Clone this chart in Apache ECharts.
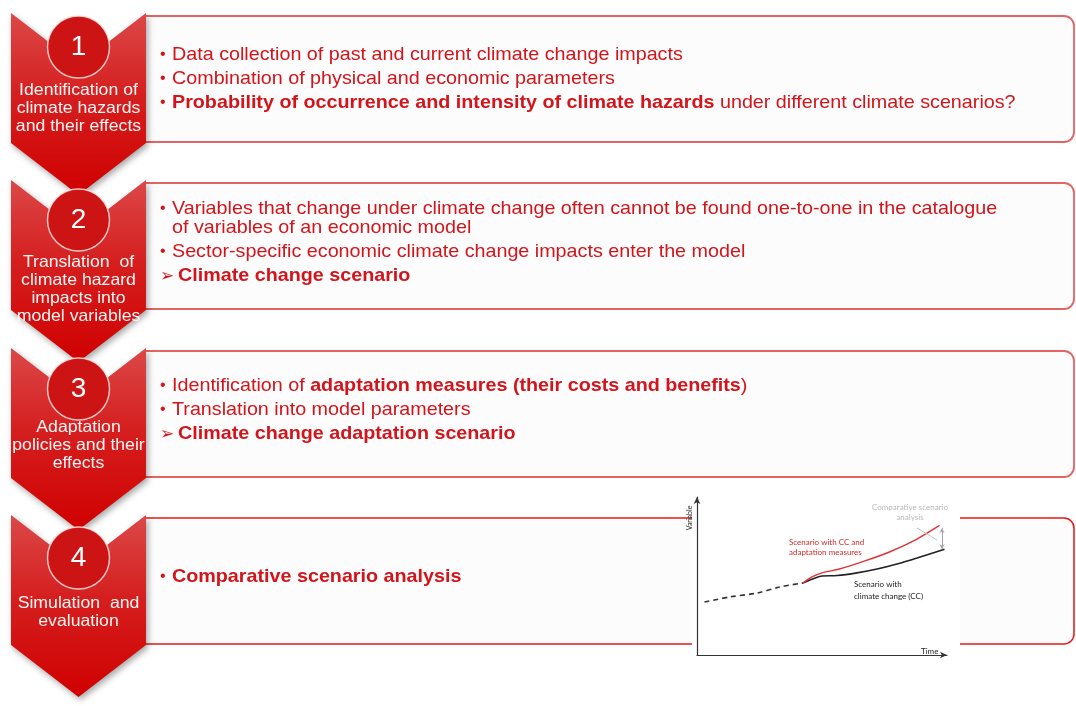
<!DOCTYPE html>
<html>
<head>
<meta charset="utf-8">
<title>Climate change impact assessment steps</title>
<script src="https://cdn.jsdelivr.net/npm/echarts@6/dist/echarts.min.js"></script>
<style>
  html, body { margin: 0; padding: 0; background: #ffffff; }
  #chart { width: 1076px; height: 706px; }
</style>
</head>
<body>
<div id="chart"></div>
<script>
// ---- Content: the four steps ----
const stepNumbers = ['1', '2', '3', '4'];

const stepTitles = [
  ['Identification of', 'climate hazards', 'and their effects'],
  ['Translation  of', 'climate hazard', 'impacts into', 'model variables'],
  ['Adaptation', 'policies and their', 'effects'],
  ['Simulation  and', 'evaluation']
];

// Each line: [marker, rich text]; {n|..} regular, {b|..} bold
const stepBullets = [
  [
    ['•', '{n|Data collection of past and current climate change impacts}'],
    ['•', '{n|Combination of physical and economic parameters}'],
    ['•', '{b|Probability of occurrence and intensity of climate hazards}{n| under different climate scenarios?}']
  ],
  [
    ['•', '{n|Variables that change under climate change often cannot be found one-to-one in the catalogue}'],
    ['',  '{n|of variables of an economic model}'],
    ['•', '{n|Sector-specific economic climate change impacts enter the model}'],
    ['➢', '{b|Climate change scenario}']
  ],
  [
    ['•', '{n|Identification of }{b|adaptation measures (their costs and benefits}{n|)}'],
    ['•', '{n|Translation into model parameters}'],
    ['➢', '{b|Climate change adaptation scenario}']
  ],
  [
    ['•', '{b|Comparative scenario analysis}']
  ]
];

// ---- Content: illustrative scenario chart (time vs. variable, 0-100) ----
const timeHistory    = [3, 13, 24, 33, 42.4];
const historyValues  = [33.5, 36.7, 39.2, 43, 45.6];
const timeScenario   = [42.4, 46, 50, 56, 64, 72, 80, 88, 99];
const ccValues       = [45.6, 48, 50, 50.3, 52, 54.4, 57.6, 61.4, 67];
const timeAdaptation = [42.4, 46, 50, 57, 66, 77, 88, 97];
const adaptValues    = [45.6, 49.4, 52, 54.4, 58.9, 65.2, 73.4, 82];
const gapTime = 98;           // where the scenario difference is marked
const gapRange = [80.4, 67];  // adaptation level -> climate change level
const calloutLine = [[88, 80.4], [96, 72.8]];

const pairs = (xs, ys) => xs.map((x, i) => [x, ys[i]]);

// ---- Layout ----
const chevL = 11, chevR = 146, chevC = 78.5;
const notch = 52, side = 130;
const chevTops = [13, 180, 348, 515];
const circleY = [47, 220, 389, 558];
const titleStart = [90, 262, 427, 603];
const lineYs = [[55, 79, 103], [209, 228, 252, 276], [386, 410, 434], [577]];
const boxRight = 1074;

const red = '#d3141b';
const fontMain = '"Liberation Sans", Arial, sans-serif';
const fontSmall = 'Lato, "Open Sans", sans-serif';

const graphics = [];

chevTops.forEach((T, i) => {
  // Content box (drawn first so the chevron sits over its left edge)
  graphics.push({
    type: 'rect', z: -20,
    shape: { x: chevR - 2, y: T + 3, width: boxRight - chevR + 2, height: side - 4, r: [0, 10, 10, 0] },
    style: { fill: '#fcfcfc', stroke: i === 3 ? '#e01a1a' : '#e26464', lineWidth: i === 3 ? 1.5 : 1.8 }
  });
  // Chevron
  graphics.push({
    type: 'polygon', z: -15,
    shape: { points: [[chevL, T], [chevC, T + notch], [chevR, T], [chevR, T + side], [chevC, T + side + notch], [chevL, T + side]] },
    style: {
      fill: new echarts.graphic.LinearGradient(0, 0, 0, 1, [
        { offset: 0, color: '#dc4848' },
        { offset: 0.45, color: '#d51f1f' },
        { offset: 1, color: '#d00000' }
      ]),
      shadowBlur: 6, shadowColor: 'rgba(0,0,0,0.35)', shadowOffsetX: 2, shadowOffsetY: 3
    }
  });
  // Number circle
  graphics.push({
    type: 'circle', z: -14,
    shape: { cx: chevC, cy: circleY[i], r: 31 },
    style: { fill: '#cd1414', stroke: 'rgba(255,225,225,0.85)', lineWidth: 1.5 }
  });
  graphics.push({
    type: 'text', z: -13,
    style: { text: stepNumbers[i], x: chevC, y: circleY[i], align: 'center', verticalAlign: 'middle',
      font: '28px ' + fontMain, fill: '#ffffff' }
  });
  // Step title
  stepTitles[i].forEach((t, k) => {
    graphics.push({
      type: 'text', z: -13, x: chevC, y: titleStart[i] + k * 18.3, scaleX: 1.07,
      style: { text: t, x: 0, y: 0, align: 'center', verticalAlign: 'middle',
        font: '16.5px ' + fontMain, fill: '#fff4f4' }
    });
  });
  // Bullet lines
  stepBullets[i].forEach((ln, k) => {
    const y = lineYs[i][k];
    if (ln[0]) {
      graphics.push({
        type: 'text', z: -12,
        style: { text: ln[0], x: 160, y: y, align: 'left', verticalAlign: 'middle',
          font: (ln[0] === '•' ? '16px ' : '17px ') + fontMain, fill: red }
      });
    }
    graphics.push({
      type: 'text', z: -12, x: ln[0] === '➢' ? 178 : 172, y: y, scaleX: 1.066,
      style: {
        text: ln[1], x: 0, y: 0, align: 'left', verticalAlign: 'middle',
        rich: {
          n: { fontFamily: fontMain, fontSize: 18.5, fill: red },
          b: { fontFamily: fontMain, fontSize: 18.5, fontWeight: 'bold', fill: red }
        }
      }
    });
  });
});

// White backdrop for the small scenario chart
graphics.push({
  type: 'rect', z: -10,
  shape: { x: 692, y: 491, width: 268, height: 172 },
  style: { fill: '#ffffff' }
});

// Small chart annotations
const note = (text, x, y, color, align) => ({
  type: 'text', z: 10,
  style: { text, x, y, align: align || 'left', verticalAlign: 'middle', font: '8px ' + fontSmall, fill: color }
});
graphics.push(note('Comparative scenario', 910, 507, '#b8b8b8', 'center'));
graphics.push(note('analysis', 910, 517, '#b8b8b8', 'center'));
graphics.push(note('Scenario with CC and', 789, 542, '#d42a2a'));
graphics.push(note('adaptation measures', 789, 552, '#d42a2a'));
graphics.push(note('Scenario with', 854, 584, '#222222'));
graphics.push(note('climate change (CC)', 854, 596, '#222222'));
graphics.push(note('Time', 921, 651, '#222222'));
graphics.push({
  type: 'text', z: 10, rotation: Math.PI / 2, x: 690, y: 518,
  style: { text: 'Variable', x: 0, y: 0, align: 'center', verticalAlign: 'middle', font: '7px ' + fontSmall, fill: '#222222' }
});

const axisCommon = {
  type: 'value', min: 0, max: 100,
  axisLine: { show: true, symbol: ['none', 'arrow'], symbolSize: [5, 7], lineStyle: { color: '#333333', width: 1.2 } },
  axisTick: { show: false }, axisLabel: { show: false }, splitLine: { show: false }
};

const option = {
  animation: false,
  backgroundColor: '#ffffff',
  grid: { left: 697, top: 497, width: 250, height: 158, containLabel: false },
  xAxis: axisCommon,
  yAxis: axisCommon,
  graphic: { elements: graphics },
  series: [
    {
      name: 'History', type: 'line', z: 3, symbol: 'none', smooth: 0.3,
      data: pairs(timeHistory, historyValues),
      lineStyle: { color: '#333333', width: 1.6, type: [5, 4] }
    },
    {
      name: 'Scenario with climate change (CC)', type: 'line', z: 3, symbol: 'none', smooth: 0.3,
      data: pairs(timeScenario, ccValues),
      lineStyle: { color: '#222222', width: 1.6 },
      markLine: {
        silent: true, symbol: ['arrow', 'arrow'], symbolSize: [4, 5], label: { show: false },
        lineStyle: { color: '#a8a8a8', width: 1, type: 'solid' },
        data: [[{ coord: [gapTime, gapRange[0]] }, { coord: [gapTime, gapRange[1]] }]]
      }
    },
    {
      name: 'Scenario with CC and adaptation measures', type: 'line', z: 3, symbol: 'none', smooth: 0.3,
      data: pairs(timeAdaptation, adaptValues),
      lineStyle: { color: '#e03434', width: 1.4 },
      markLine: {
        silent: true, symbol: ['none', 'none'], label: { show: false },
        lineStyle: { color: '#c4c4c4', width: 1, type: 'solid' },
        data: [[{ coord: calloutLine[0] }, { coord: calloutLine[1] }]]
      }
    }
  ]
};

const chart = echarts.init(document.getElementById('chart'), null, { renderer: 'canvas' });
chart.setOption(option);
</script>
</body>
</html>
